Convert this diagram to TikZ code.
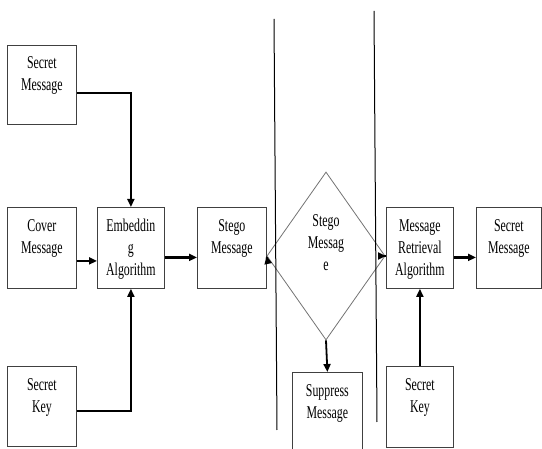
\documentclass[tikz,border=0pt]{standalone}
\usepackage{fontspec}
\newfontfamily\diagfont[FakeStretch=0.66]{Liberation Serif}
\usepackage{tikz}
\usetikzlibrary{shapes.geometric,arrows.meta,positioning,calc}

% text that sits at the top of a block
\newcommand{\toptext}[1]{\parbox[c][78pt][t]{64pt}{\centering\rule{0pt}{23pt}#1}}

\begin{document}
\begin{tikzpicture}[
    x=1pt,
    y=-1pt,
    font=\diagfont\fontsize{18}{22}\selectfont,
    block/.style={draw=black!75, line width=0.8pt, anchor=north west, inner sep=0pt,
                  minimum width=69pt, minimum height=81pt},
    decision/.style={diamond, draw=black!55, line width=0.8pt, inner sep=0pt,
                     minimum width=96pt, minimum height=168pt, align=center},
    flow/.style={-{Triangle[length=8pt,width=7pt]}, line width=2.4pt},
    feed/.style={-{Triangle[length=8pt,width=7pt]}, line width=1.8pt},
    divider/.style={line width=1pt}
]
    \useasboundingbox (0,0) rectangle (542,449);

    % Sender side
    \node[block, minimum height=79pt] (secmsg) at (7,45) {\toptext{Secret\\Message}};
    \node[block] (cover) at (7,207) {\toptext{Cover\\Message}};
    \node[block, minimum width=67pt] (embed) at (97,207) {\toptext{Embeddin\\g\\Algorithm}};
    \node[block] (stego) at (197,207) {\toptext{Stego\\Message}};
    \node[block, minimum height=80pt] (seckey) at (7,366) {\toptext{Secret\\Key}};

    % Channel
    \node[decision] (sdiamond) at (326,256) {Stego\\Messag\\e\\[4pt]};
    \node[block, minimum width=70pt] (suppress) at (292,372) {\toptext{Suppress\\Message}};

    % Receiver side
    \node[block, minimum width=67pt] (retrieval) at (386,207) {\toptext{Message\\Retrieval\\Algorithm}};
    \node[block, minimum width=65pt] (secmsgout) at (476,207) {\toptext{Secret\\Message}};
    \node[block, minimum width=67pt] (seckeyout) at (386,366) {\toptext{Secret\\Key}};

    % Channel borders
    \coordinate (lefttop) at (274,19);
    \coordinate (leftbot) at (277,430);
    \coordinate (righttop) at (374,11);
    \coordinate (rightbot) at (377,422);
    \draw[divider] (lefttop) -- (leftbot);
    \draw[divider] (righttop) -- (rightbot);

    % Connectors
    \draw[feed] ([yshift=-8pt]secmsg.east) -| (embed.north);
    \draw[flow] ([yshift=-13pt]cover.east) -- ([yshift=-13pt]embed.west);
    \draw[feed] ([yshift=-5pt]seckey.east) -| (embed.south);
    \draw[flow] ([yshift=-9.5pt]embed.east) -- ([yshift=-9.5pt]stego.west);
    \draw[flow] ([yshift=-9.5pt]stego.east) -- (sdiamond.west);
    \draw[feed] (sdiamond.south) -- (suppress.north);
    \draw[flow] (sdiamond.east) -- (sdiamond.east -| retrieval.west);
    \draw[flow] ([yshift=-9.5pt]retrieval.east) -- ([yshift=-9.5pt]secmsgout.west);
    \draw[feed] (seckeyout.north) -- (retrieval.south);
\end{tikzpicture}
\end{document}
